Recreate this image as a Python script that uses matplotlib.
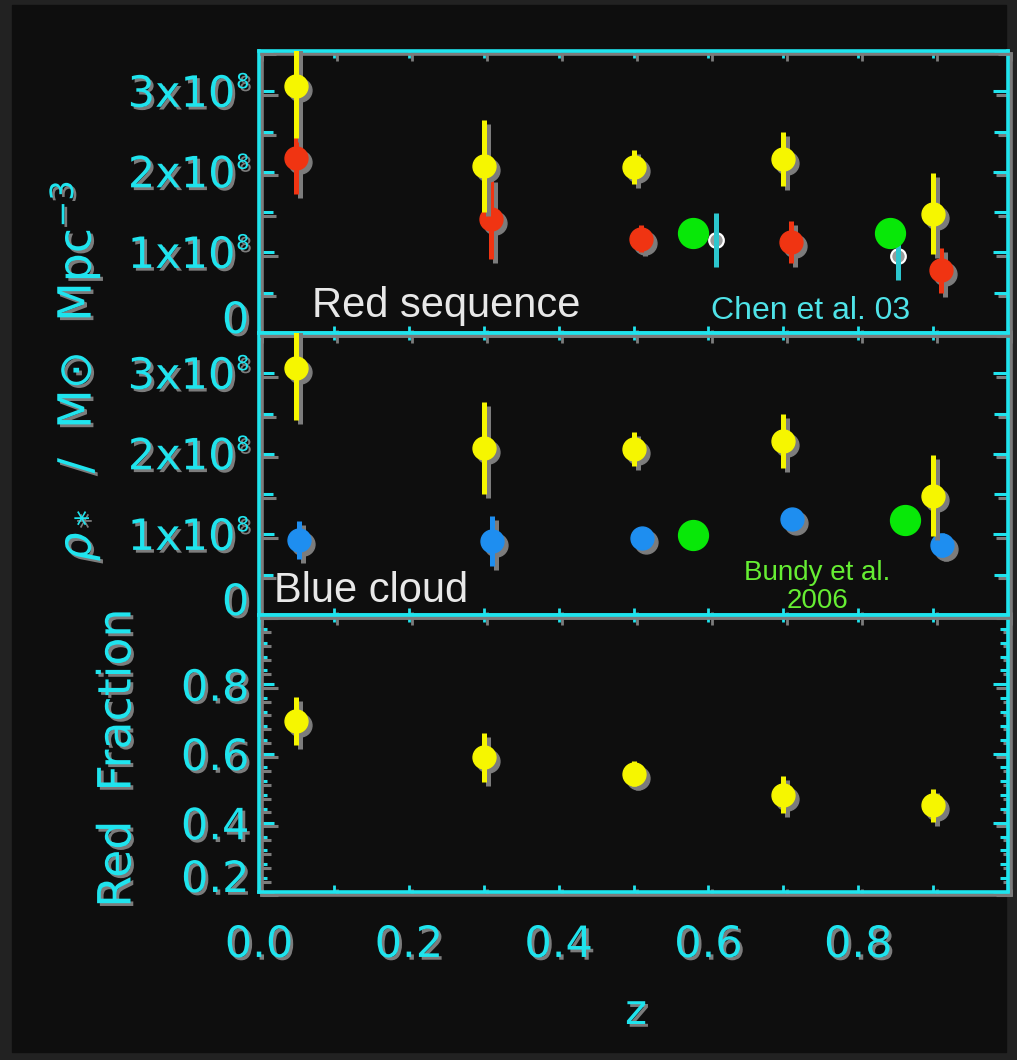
import matplotlib
matplotlib.use("Agg")
import matplotlib.pyplot as plt
import matplotlib.patheffects as pe
from matplotlib.patches import Rectangle
from matplotlib.ticker import MultipleLocator, FixedLocator
from matplotlib.transforms import offset_copy
import numpy as np

# redshift bins
z_all = [0.05, 0.30, 0.50, 0.70, 0.90]

# all galaxies, stellar mass density (Msun / Mpc^3)
rho_all = [3.07e8, 2.07e8, 2.06e8, 2.16e8, 1.48e8]
rho_all_err = [0.65e8, 0.57e8, 0.21e8, 0.33e8, 0.50e8]

# red sequence
z_red = [0.05, 0.31, 0.51, 0.71, 0.91]
rho_red = [2.17e8, 1.42e8, 1.17e8, 1.13e8, 0.78e8]
rho_red_err = [0.44e8, 0.50e8, 0.17e8, 0.26e8, 0.28e8]

# blue cloud
z_blue = [0.053, 0.311, 0.512, 0.712, 0.912]
rho_blue = [0.93e8, 0.92e8, 0.96e8, 1.19e8, 0.87e8]
rho_blue_err = [0.24e8, 0.31e8, 0.06e8, 0.10e8, 0.15e8]

# Chen et al. 03
z_chen = [0.61, 0.853]
rho_chen = [1.155e8, 0.955e8]
rho_chen_err = [0.33e8, 0.30e8]

# Bundy et al. 2006
z_bundy_red = [0.58, 0.842]
rho_bundy_red = [1.245e8, 1.245e8]
z_bundy_blue = [0.58, 0.863]
rho_bundy_blue = [0.99e8, 1.18e8]

# red fraction
red_frac = [0.694, 0.589, 0.542, 0.481, 0.450]
red_frac_err = [0.07, 0.07, 0.035, 0.053, 0.048]

rho_ticks = [0, 1e8, 2e8, 3e8]
rho_mantissa = ["0", "1x10", "2x10", "3x10"]
rho_exponent = ["", "8", "8", "8"]
frac_ticks = [0.2, 0.4, 0.6, 0.8]
frac_ticklabels = ["0.2", "0.4", "0.6", "0.8"]
z_ticks = [0.0, 0.2, 0.4, 0.6, 0.8]
z_ticklabels = ["0.0", "0.2", "0.4", "0.6", "0.8"]

W, H = 1017, 1060
CYAN = "#1fe4ee"
GREY = "#7c7c7c"
YELLOW = "#f6f600"
RED = "#f03412"
BLUE = "#1e8ef0"
GREEN = "#08e808"

line_shadow = [pe.SimpleLineShadow(offset=(2.5, -2.5), shadow_color=GREY, alpha=1.0), pe.Normal()]
text_shadow = [pe.withSimplePatchShadow(offset=(2, -2), shadow_rgbFace=GREY, alpha=1.0)]

fig = plt.figure(figsize=(W / 100, H / 100), dpi=100, facecolor="#222222")
fig.add_artist(Rectangle((12 / W, 1 - 1052 / H), (1006 - 12) / W, (1052 - 5) / H,
                         transform=fig.transFigure, color="#0e0e0e", zorder=-1))


def make_panel(top_px, bottom_px):
    ax = fig.add_axes([259 / W, 1 - bottom_px / H, 749 / W, (bottom_px - top_px) / H])
    ax.set_facecolor("none")
    for s in ax.spines.values():
        s.set_color(CYAN)
        s.set_linewidth(2.6)
        s.set_path_effects(line_shadow)
    ax.set_xlim(0, 1)
    ax.xaxis.set_major_locator(FixedLocator(z_ticks))
    ax.xaxis.set_minor_locator(MultipleLocator(0.1))
    ax.tick_params(axis="x", which="both", direction="in", length=5, width=2,
                   color=CYAN, top=True, bottom=True, labelbottom=False,
                   labelsize=31, labelcolor=CYAN, pad=23)
    ax.tick_params(axis="y", which="both", direction="in", width=2.2, color=CYAN,
                   left=True, right=True, labelsize=31, labelcolor=CYAN, pad=7)
    return ax


def plot_series(ax, x, y, err, color):
    # grey drop shadow first, then the coloured points on top
    sh = offset_copy(ax.transData, fig=fig, x=4, y=-4, units="dots")
    lo = np.subtract(y, err)
    hi = np.add(y, err)
    for trans, c in ((sh, GREY), (ax.transData, color)):
        ax.vlines(x, lo, hi, colors=c, linewidth=3.6, transform=trans, zorder=3)
        ax.plot(x, y, "o", ms=16.5, color=c, mec=c, transform=trans, zorder=3)


def add_shadows(ax):
    for axis in (ax.xaxis, ax.yaxis):
        for t in axis.get_major_ticks() + axis.get_minor_ticks():
            t.tick1line.set_path_effects(line_shadow)
            t.tick2line.set_path_effects(line_shadow)
            t.label1.set_path_effects(text_shadow)


def rho_labels(ax):
    # "Nx10" with a small raised exponent, "0" resting on its tick
    tr = ax.get_yaxis_transform()
    for val, man, ex in zip(rho_ticks, rho_mantissa, rho_exponent):
        if not ex:
            ax.annotate(man, (0, val), xycoords=tr, xytext=(-7, 0), textcoords="offset points",
                        ha="right", va="baseline", fontsize=31, color=CYAN,
                        path_effects=text_shadow, annotation_clip=False)
            continue
        ax.annotate(man, (0, val), xycoords=tr, xytext=(-17, -2.5), textcoords="offset points",
                    ha="right", va="center", fontsize=31, color=CYAN,
                    path_effects=text_shadow, annotation_clip=False)
        ax.annotate(ex, (0, val), xycoords=tr, xytext=(-7, 6.5), textcoords="offset points",
                    ha="right", va="center", fontsize=15, color=CYAN,
                    path_effects=text_shadow, annotation_clip=False)


ax_red = make_panel(51, 333)
ax_blue = make_panel(333, 615)
ax_frac = make_panel(615, 892)

for ax in (ax_red, ax_blue):
    ax.set_ylim(0, 3.5e8)
    ax.set_yticks(rho_ticks)
    ax.yaxis.set_minor_locator(MultipleLocator(0.5e8))
    ax.tick_params(axis="y", which="major", length=11, labelleft=False)
    ax.tick_params(axis="y", which="minor", length=10)
    rho_labels(ax)

# red sequence panel
plot_series(ax_red, z_red, rho_red, rho_red_err, RED)
plot_series(ax_red, z_all, rho_all, rho_all_err, YELLOW)
ax_red.vlines(z_chen, np.subtract(rho_chen, rho_chen_err), np.add(rho_chen, rho_chen_err),
              colors="#2cc6ce", linewidth=3.6, zorder=6)
ax_red.plot(z_chen, rho_chen, "o", ms=10.5, mfc="#9a9a9a", mec="white", mew=1.6, zorder=5)
ax_red.plot(z_bundy_red, rho_bundy_red, "o", ms=21.5, color=GREEN, zorder=7)
ax_red.text(0.071, 0.2e8, "Red sequence", family="Liberation Sans", fontsize=30,
            color="#e8e8e8", ha="left", va="baseline")
ax_red.text(0.604, 0.17e8, "Chen et al. 03", family="Liberation Sans", fontsize=23,
            color="#4fe3e8", ha="left", va="baseline")

# blue cloud panel
plot_series(ax_blue, z_blue, rho_blue, rho_blue_err, BLUE)
plot_series(ax_blue, z_all, rho_all, rho_all_err, YELLOW)
ax_blue.plot(z_bundy_blue, rho_bundy_blue, "o", ms=21.5, color=GREEN, zorder=7)
ax_blue.text(0.02, 0.16e8, "Blue cloud", family="Liberation Sans", fontsize=30,
             color="#e8e8e8", ha="left", va="baseline")
ax_blue.text(0.745, 0.68e8, "Bundy et al.\n2006", family="Liberation Sans", fontsize=20,
             color="#66ee33", ha="center", va="top", multialignment="center", linespacing=1.1)

# red fraction panel
ax_frac.set_ylim(0.2, 1.0)
ax_frac.set_yticks(frac_ticks, frac_ticklabels)
ax_frac.yaxis.set_minor_locator(MultipleLocator(0.04))
ax_frac.tick_params(axis="y", which="major", length=11)
ax_frac.tick_params(axis="y", which="minor", length=6)
ax_frac.tick_params(axis="x", labelbottom=True)
ax_frac.set_xticks(z_ticks, z_ticklabels)
plot_series(ax_frac, z_all, red_frac, red_frac_err, YELLOW)

for ax in (ax_red, ax_blue, ax_frac):
    add_shadows(ax)
# lowest fraction label sits on its tick so it stays inside the panel
ax_frac.yaxis.get_major_ticks()[0].label1.set_va("baseline")

fig.text(75 / W, 1 - 371 / H, r"$\rho_*$  /  M$\odot$  Mpc$^{-3}$", rotation=90,
         fontsize=33, color=CYAN, ha="center", va="center", path_effects=text_shadow)
fig.text(118 / W, 1 - 758 / H, "Red  Fraction", rotation=90, fontsize=33, color=CYAN,
         ha="center", va="center", path_effects=text_shadow)
fig.text(636 / W, 1 - 1012 / H, "z", fontsize=30, color=CYAN, ha="center", va="center",
         path_effects=text_shadow)

fig.savefig("out.png", dpi=100, facecolor=fig.get_facecolor())
